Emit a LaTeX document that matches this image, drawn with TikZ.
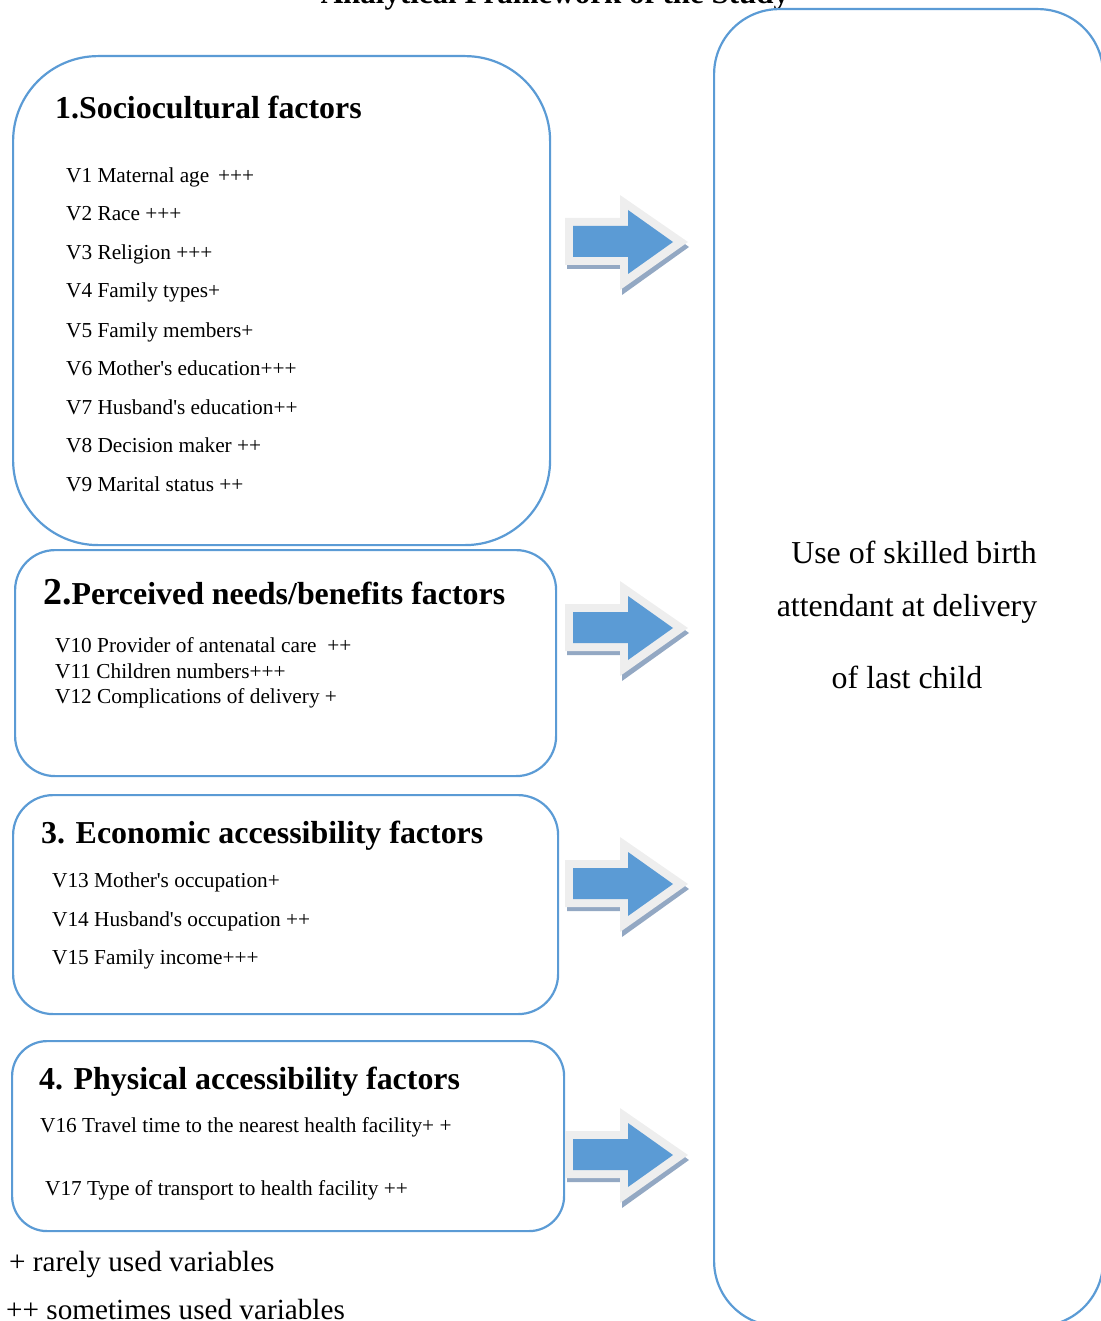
\documentclass[tikz,border=0pt]{standalone}
\usepackage{fontspec}
\setmainfont{Liberation Serif}[Ligatures=TeXOff]
\definecolor{lineblue}{HTML}{5B9BD5}
\definecolor{arrowblue}{HTML}{5B9BD5}
\definecolor{arrowedge}{HTML}{EEEEEE}
\definecolor{arrowshadow}{HTML}{93A8C3}
\begin{document}
\begin{tikzpicture}[x=1pt,y=-1pt,
  fbox/.style={draw=lineblue, line width=2.2pt, rounded corners=#1, inner sep=0pt, anchor=north west},
  item/.style={anchor=base west, inner sep=0pt, font=\fontsize{21.3}{24}\selectfont},
  head/.style={anchor=base west, inner sep=0pt, font=\fontsize{31.9}{36}\selectfont\bfseries},
  outtext/.style={anchor=base, inner sep=0pt, font=\fontsize{31.9}{36}\selectfont},
  legend/.style={anchor=base west, inner sep=0pt, font=\fontsize{29.2}{32}\selectfont}]
\useasboundingbox (0,0) rectangle (1100,1321);

% title (cut by the page top)
\node[anchor=base, inner sep=0pt, font=\fontsize{31}{34}\selectfont\bfseries] (title) at (555,4) {Analytical Framework of the Study};

% boxes
\node[fbox=85pt, minimum width=537pt, minimum height=489pt] (b1) at (12,55) {};
\node[fbox=40pt, minimum width=541pt, minimum height=226pt] (b2) at (14,549) {};
\node[fbox=40pt, minimum width=545pt, minimum height=219pt] (b3) at (12,794) {};
\node[fbox=35pt, minimum width=552pt, minimum height=190pt] (b4) at (11,1040) {};
\node[fbox=65pt, minimum width=389pt, minimum height=1317pt] (out) at (713,8) {};

% box 1
\node[head] (h1) at (55,119) {1.Sociocultural factors};
\node[item] (v1) at (66,183) {V1 Maternal age\, +++};
\node[item] (v2) at (66,221) {V2 Race +++};
\node[item] (v3) at (66,260) {V3 Religion +++};
\node[item] (v4) at (66,298) {V4 Family types+};
\node[item] (v5) at (66,337) {V5 Family members+};
\node[item] (v6) at (66,375) {V6 Mother's education+++};
\node[item] (v7) at (66,414) {V7 Husband's education++};
\node[item] (v8) at (66,452) {V8 Decision maker ++};
\node[item] (v9) at (66,491) {V9 Marital status ++};

% box 2
\node[head] (h2) at (43,604) {{\fontsize{38}{40}\selectfont 2.}Perceived needs/benefits factors};
\node[item] (v10) at (55,652) {V10 Provider of antenatal care\ \ ++};
\node[item] (v11) at (55,678) {V11 Children numbers+++};
\node[item] (v12) at (55,703) {V12 Complications of delivery +};

% box 3
\node[head] (h3) at (41,843) {3. Economic accessibility factors};
\node[item] (v13) at (52,887) {V13 Mother's occupation+};
\node[item] (v14) at (52,926) {V14 Husband's occupation ++};
\node[item] (v15) at (52,964) {V15 Family income+++};

% box 4
\node[head] (h4) at (39,1089) {4. Physical accessibility factors};
\node[item] (v16) at (40,1132) {V16 Travel time to the nearest health facility+ +};
\node[item] (v17) at (45,1195) {V17 Type of transport to health facility ++};

% outcome text
\node[outtext] (o1) at (914,563) {Use of skilled birth};
\node[outtext] (o2) at (907,616) {attendant at delivery};
\node[outtext] (o3) at (907,688) {of last child};

% legend
\node[legend] (l1) at (9,1271) {+ rarely used variables};
\node[legend] (l2) at (6,1319) {++ sometimes used variables};

% block arrows
\foreach \cy in {242,628,884,1155} {
  \fill[arrowshadow] (567,\cy-24+4) -- (622,\cy-24+4) -- (622,\cy-47+4) -- (689,\cy+5) -- (622,\cy+48+5) -- (622,\cy+23+4) -- (567,\cy+23+4) -- cycle;
  \fill[arrowedge] (565,\cy-24) -- (620,\cy-24) -- (620,\cy-47) -- (688,\cy) -- (620,\cy+48) -- (620,\cy+23) -- (565,\cy+23) -- cycle;
  \fill[arrowblue] (573,\cy-16) -- (628,\cy-16) -- (628,\cy-32) -- (673,\cy) -- (628,\cy+32) -- (628,\cy+15) -- (573,\cy+15) -- cycle;
}
\end{tikzpicture}
\end{document}
